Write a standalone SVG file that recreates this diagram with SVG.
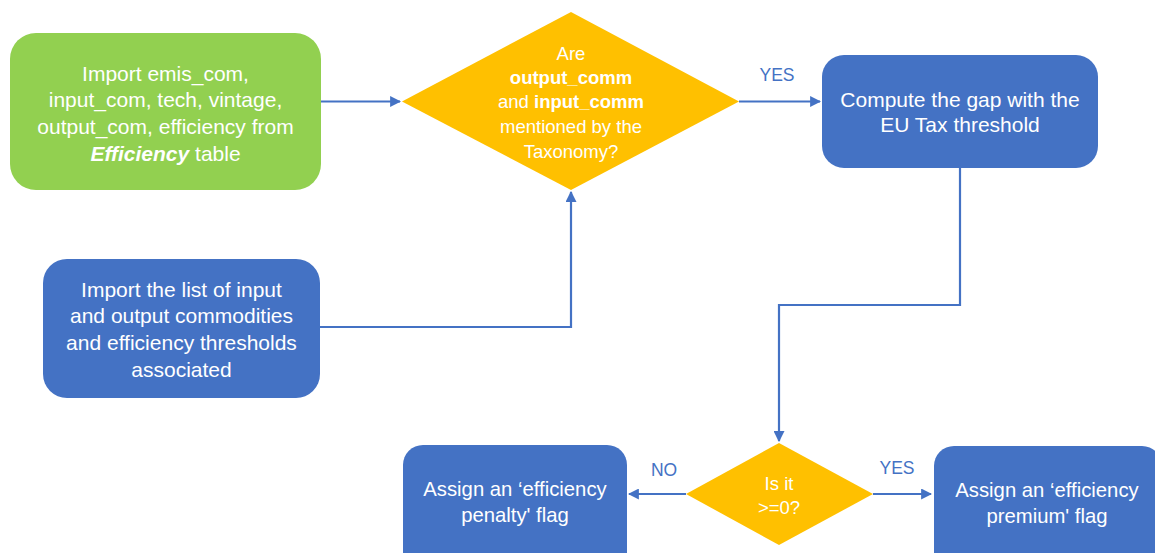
<svg xmlns="http://www.w3.org/2000/svg" width="1155" height="553" viewBox="0 0 1155 553">
<style>
  .t{font-family:"Liberation Sans",Arial,sans-serif;font-size:21px;fill:#ffffff;text-anchor:middle}
  .d{font-size:18.5px}
  .s{font-size:20.3px}
  .lbl{font-family:"Liberation Sans",Arial,sans-serif;font-size:17.5px;fill:#4472C4;text-anchor:middle}
  .b{font-weight:bold}
  .bi{font-weight:bold;font-style:italic}
  .blue{fill:#4472C4}
  .conn{fill:none;stroke:#4472C4;stroke-width:2.2}
</style>
<defs>
  <marker id="ah" viewBox="0 0 10 10" refX="9" refY="5" markerWidth="5" markerHeight="5" orient="auto" markerUnits="strokeWidth">
    <path d="M0,0 L10,5 L0,10 z" fill="#4472C4"/>
  </marker>
</defs>
<rect width="1155" height="553" fill="#ffffff"/>

<g id="connectors">
  <path class="conn" d="M321,101.5 L400,101.5" marker-end="url(#ah)"/>
  <path class="conn" d="M320,327 L571,327 L571,192" marker-end="url(#ah)"/>
  <path class="conn" d="M739,101.5 L820,101.5" marker-end="url(#ah)"/>
  <path class="conn" d="M960,168 L960,305 L779,305 L779,441" marker-end="url(#ah)"/>
  <path class="conn" d="M686,494 L629,494" marker-end="url(#ah)"/>
  <path class="conn" d="M873,494 L931,494" marker-end="url(#ah)"/>
  <text class="lbl" x="777" y="81">YES</text>
  <text class="lbl" x="664" y="476">NO</text>
  <text class="lbl" x="897" y="474">YES</text>
</g>

<g id="node-import-efficiency">
  <rect x="10" y="33" width="311" height="157" rx="26" fill="#92D050"/>
  <text class="t" x="165.5" y="80.5">Import emis_com,</text>
  <text class="t" x="165.5" y="106.5">input_com, tech, vintage,</text>
  <text class="t" x="165.5" y="133.5">output_com, efficiency from</text>
  <text class="t" x="165.5" y="160.5"><tspan class="bi">Efficiency</tspan> table</text>
</g>

<g id="node-decision-taxonomy">
  <polygon points="402,101.5 571,12 739,101.5 571,190" fill="#FFC000"/>
  <text class="t d" x="571" y="60">Are</text>
  <text class="t d b" x="571" y="84">output_comm</text>
  <text class="t d" x="571" y="108">and <tspan class="b">input_comm</tspan></text>
  <text class="t d" x="571" y="133">mentioned by the</text>
  <text class="t d" x="571" y="158">Taxonomy?</text>
</g>

<g id="node-compute-gap">
  <rect x="822" y="55" width="276" height="113" rx="22" class="blue"/>
  <text class="t" x="960" y="107">Compute the gap with the</text>
  <text class="t" x="960" y="132">EU Tax threshold</text>
</g>

<g id="node-import-list">
  <rect x="43" y="259" width="277" height="139" rx="24" class="blue"/>
  <text class="t" x="181.5" y="297">Import the list of input</text>
  <text class="t" x="181.5" y="323">and output commodities</text>
  <text class="t" x="181.5" y="350">and efficiency thresholds</text>
  <text class="t" x="181.5" y="377">associated</text>
</g>

<g id="node-decision-gap">
  <polygon points="686,494 779,443 873,494 779,545" fill="#FFC000"/>
  <text class="t d" x="779" y="489.5">Is it</text>
  <text class="t d" x="779" y="513.5">&gt;=0?</text>
</g>

<g id="node-penalty">
  <rect x="403" y="445" width="224" height="130" rx="20" class="blue"/>
  <text class="t s" x="515" y="496">Assign an ‘efficiency</text>
  <text class="t s" x="515" y="522">penalty' flag</text>
</g>

<g id="node-premium">
  <rect x="934" y="446" width="228" height="130" rx="20" class="blue"/>
  <text class="t s" x="1047" y="497">Assign an ‘efficiency</text>
  <text class="t s" x="1047" y="523">premium' flag</text>
</g>
</svg>
